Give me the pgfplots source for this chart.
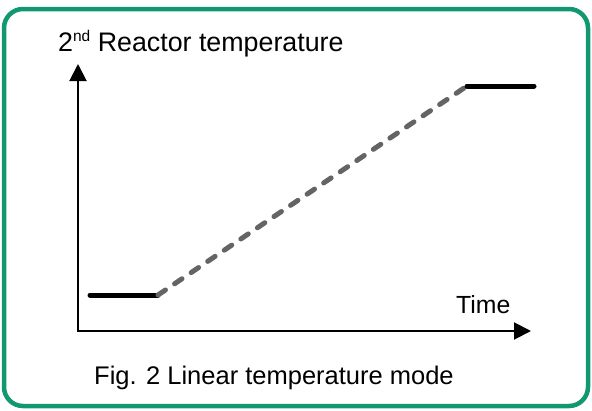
\documentclass[border=0pt]{standalone}
\usepackage{fontspec}
\setmainfont{Liberation Sans}
\usepackage{pgfplots}
\pgfplotsset{compat=1.18}
\usetikzlibrary{arrows.meta}
\definecolor{framegreen}{RGB}{18,152,112}
\definecolor{dashgray}{RGB}{100,100,100}
\begin{document}
\begin{tikzpicture}
\begin{axis}[
  at={(0,0)}, anchor=south west,
  width=592pt, height=410pt, scale only axis,
  xmin=0, xmax=592, ymin=0, ymax=410,
  y dir=reverse, hide axis, clip=false,
]
% bounding box
\path (axis cs:0,0) rectangle (axis cs:592,410);
% frame
\draw[framegreen, line width=4.5pt, rounded corners=19pt]
  (axis cs:4,9) rectangle (axis cs:588,406);
% axes with arrows
\draw[black, line width=2pt, -{Triangle[length=17pt,width=17pt]}]
  (axis cs:78,331) -- (axis cs:78,64);
\draw[black, line width=2pt, -{Triangle[length=17pt,width=17pt]}]
  (axis cs:77,331) -- (axis cs:531,331);
% data
\addplot[black, line width=5pt, line cap=round] coordinates {(90,295) (158,295)};
\addplot[dashgray, line width=5pt, line cap=round, dash pattern=on 9pt off 11pt]
  coordinates {(158,295) (467,86)};
\addplot[black, line width=5pt, line cap=round] coordinates {(467,86) (534,86)};
% texts
\node[anchor=base west, inner sep=0pt, font=\fontsize{26.8}{30}\selectfont]
  at (axis cs:58,51) {2\raisebox{9.5pt}{\fontsize{15.5}{16}\selectfont nd} Reactor temperature};
\node[anchor=base west, inner sep=0pt, font=\fontsize{24.8}{28}\selectfont]
  at (axis cs:456,313) {Time};
\node[anchor=base west, inner sep=0pt, font=\fontsize{25.5}{30}\selectfont]
  at (axis cs:94,384) {Fig. 2 Linear temperature mode};
\end{axis}
\end{tikzpicture}
\end{document}
